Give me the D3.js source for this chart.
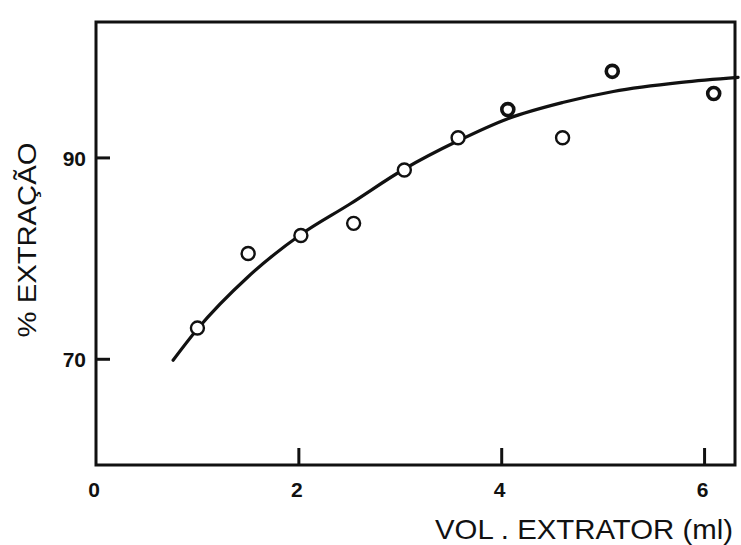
<!DOCTYPE html>
<html>
<head>
<meta charset="utf-8">
<script src="https://cdn.jsdelivr.net/npm/d3@7"></script>
<style>
  body { margin: 0; background: #fff; }
  text { font-family: "Liberation Sans", Arial, sans-serif; fill: #111; }
</style>
</head>
<body>
<div id="chart"></div>
<script>
/**
 * DATA
 * */
// measured points: volume of extractor (ml) vs % extraction
const volumes = [1.0, 1.5, 2.02, 2.54, 3.04, 3.57, 4.06, 4.6, 5.09, 6.09];
const extraction = [73.1, 80.5, 82.3, 83.5, 88.8, 92.0, 94.8, 92.0, 98.6, 96.4];
// heavier drawn circles in the original
const heavy = [false, false, false, false, false, false, true, false, true, true];

// hand drawn fit curve
const curveX = [0.76, 1.0, 1.5, 2.02, 2.5, 3.04, 3.57, 4.06, 4.6, 5.1, 5.77, 6.33];
const curveY = [69.9, 73.0, 78.2, 82.4, 85.4, 88.9, 91.7, 93.9, 95.5, 96.6, 97.5, 98.0];

const xTicks = [0, 2, 4, 6];
const yTicks = [70, 90];

/**
 * CONSTANTS
 * */
const width = 741,
  height = 545,
  margin = { top: 22, bottom: 80, left: 96, right: 6 };

const svg = d3.select("#chart")
  .append("svg")
  .attr("width", width)
  .attr("height", height);

const x = d3.scaleLinear()
  .domain([0, 6.3])
  .range([margin.left, width - margin.right]);

const y = d3.scaleLinear()
  .domain([59.5, 103.5])
  .range([height - margin.bottom, margin.top]);

// frame
svg.append("rect")
  .attr("x", x(0))
  .attr("y", y(103.5))
  .attr("width", x(6.3) - x(0))
  .attr("height", y(59.5) - y(103.5))
  .attr("fill", "none")
  .attr("stroke", "#111")
  .attr("stroke-width", 3);

// x ticks, pointing inward
svg.selectAll(".xtick")
  .data(xTicks.filter(d => d > 0))
  .join("line")
  .attr("class", "xtick")
  .attr("x1", d => x(d))
  .attr("x2", d => x(d))
  .attr("y1", y(59.5))
  .attr("y2", y(59.5) - 17)
  .attr("stroke", "#111")
  .attr("stroke-width", 3);

svg.selectAll(".xlabel")
  .data(xTicks)
  .join("text")
  .attr("class", "xlabel")
  .attr("x", d => x(d) - 2)
  .attr("y", 497)
  .attr("text-anchor", "middle")
  .attr("font-size", 21)
  .attr("font-weight", "bold")
  .text(d => d);

// y ticks, pointing inward
svg.selectAll(".ytick")
  .data(yTicks)
  .join("line")
  .attr("class", "ytick")
  .attr("x1", x(0))
  .attr("x2", x(0) + 14)
  .attr("y1", d => y(d))
  .attr("y2", d => y(d))
  .attr("stroke", "#111")
  .attr("stroke-width", 3);

svg.selectAll(".ylabel")
  .data(yTicks)
  .join("text")
  .attr("class", "ylabel")
  .attr("x", 86)
  .attr("y", d => y(d) + 8)
  .attr("text-anchor", "end")
  .attr("font-size", 21)
  .attr("font-weight", "bold")
  .text(d => d);

// axis titles
svg.append("text")
  .attr("transform", `translate(36,240) rotate(-90)`)
  .attr("text-anchor", "middle")
  .attr("font-size", 25)
  .attr("textLength", 195)
  .attr("lengthAdjust", "spacingAndGlyphs")
  .text("% EXTRAÇÃO");

svg.append("text")
  .attr("x", 733)
  .attr("y", 539)
  .attr("text-anchor", "end")
  .attr("font-size", 28)
  .attr("textLength", 298)
  .attr("lengthAdjust", "spacingAndGlyphs")
  .text("VOL . EXTRATOR (ml)");

// fit curve
const line = d3.line()
  .x(d => x(d[0]))
  .y(d => y(d[1]))
  .curve(d3.curveMonotoneX);

svg.append("path")
  .datum(d3.zip(curveX, curveY))
  .attr("d", line)
  .attr("fill", "none")
  .attr("stroke", "#111")
  .attr("stroke-width", 3.2)
  .attr("stroke-linecap", "round");

// measured points
svg.selectAll(".pt")
  .data(d3.zip(volumes, extraction, heavy))
  .join("circle")
  .attr("class", "pt")
  .attr("cx", d => x(d[0]))
  .attr("cy", d => y(d[1]))
  .attr("r", d => d[2] ? 6 : 6.5)
  .attr("fill", "#fff")
  .attr("stroke", "#111")
  .attr("stroke-width", d => d[2] ? 3.6 : 2.4);
</script>
</body>
</html>
